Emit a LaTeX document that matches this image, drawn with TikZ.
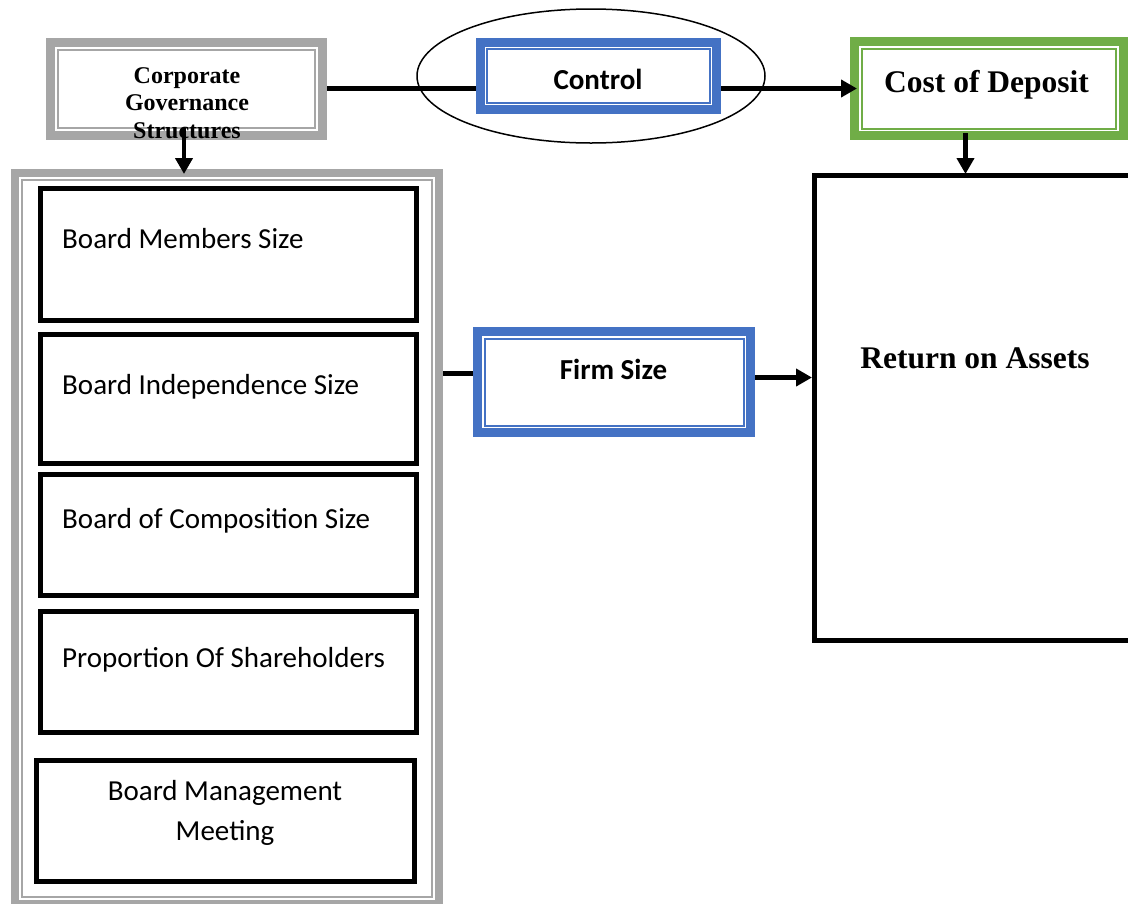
\documentclass[tikz,border=0pt]{standalone}
\usepackage{fontspec}
\setmainfont{Liberation Serif}
\newfontfamily\calibrifont{Carlito}
\usetikzlibrary{shapes.geometric,arrows.meta}
\definecolor{fgray}{RGB}{166,166,166}
\definecolor{fblue}{RGB}{68,114,196}
\definecolor{fgreen}{RGB}{112,173,71}
\begin{document}
\begin{tikzpicture}[x=1pt,y=-1pt,
  frame/.style={rectangle, draw, fill=white, inner sep=0pt, line width=9pt},
  innerline/.style={line width=2pt},
  bbox/.style={rectangle, draw=black, fill=white, inner sep=0pt, line width=5pt},
  conn/.style={line width=4.5pt, draw=black},
  arr/.style={conn, -{Triangle[width=17pt,length=16pt]}},
  serifbig/.style={font=\fontsize{31.5}{36}\selectfont\bfseries, inner sep=0pt},
  serifsmall/.style={font=\fontsize{24}{27.5}\selectfont\bfseries, inner sep=0pt},
  caltext/.style={font=\calibrifont\fontsize{29}{40}\selectfont, inner sep=0pt},
  calbold/.style={font=\calibrifont\fontsize{29}{35}\selectfont\bfseries, inner sep=0pt}
]
\useasboundingbox (0,0) rectangle (1128,903);

% ellipse behind Control
\node[ellipse, draw=black, line width=1.5pt, minimum width=348pt, minimum height=134pt, inner sep=0pt] (ell) at (591,76) {};

% framed boxes
\node[frame, draw=fgray, minimum width=272pt, minimum height=93pt] (corp) at (186.5,89) {};
\draw[fgray, innerline] ([shift={(12,12)}]corp.north west) rectangle ([shift={(-12,-12)}]corp.south east);

\node[frame, draw=fblue, minimum width=236pt, minimum height=67pt] (ctrl) at (598.5,76) {};
\draw[fblue, innerline] ([shift={(11,11)}]ctrl.north west) rectangle ([shift={(-11,-11)}]ctrl.south east);

\node[frame, draw=fgreen, minimum width=268.5pt, minimum height=94pt] (cost) at (988.75,88.5) {};
\draw[fgreen, innerline] ([shift={(11.5,11.5)}]cost.north west) rectangle ([shift={(-11.5,-11.5)}]cost.south east);

\node[frame, draw=fblue, minimum width=273pt, minimum height=101pt] (firm) at (614,382) {};
\draw[fblue, innerline] ([shift={(11.5,11.5)}]firm.north west) rectangle ([shift={(-11.5,-11.5)}]firm.south east);

\node[frame, draw=fgray, line width=8pt, minimum width=424pt, minimum height=731pt] (cont) at (227,538.5) {};
\draw[fgray, innerline] ([shift={(11,11)}]cont.north west) rectangle ([shift={(-11,-11)}]cont.south east);

% Return on Assets box (runs off the right edge)
\node[bbox, minimum width=325.5pt, minimum height=465pt] (roa) at (977.25,408) {};

% inner black boxes
\node[bbox, minimum width=376.5pt, minimum height=132pt] (b1) at (228.25,254) {};
\node[bbox, minimum width=376.5pt, minimum height=129.5pt] (b2) at (228.25,398.75) {};
\node[bbox, minimum width=376.5pt, minimum height=121pt] (b3) at (228.25,535) {};
\node[bbox, minimum width=376.5pt, minimum height=121pt] (b4) at (228.25,672) {};
\node[bbox, minimum width=378pt, minimum height=121.5pt] (b5) at (225.5,820.75) {};

% texts
\node[serifsmall, anchor=base] (corpT) at (187,83) {\begin{tabular}[t]{@{}c@{}}Corporate\\Governance\\Structures\end{tabular}};
\node[calbold, anchor=base] (ctrlT) at (598,89) {Control};
\node[serifbig, anchor=base] (costT) at (986.5,92) {Cost of Deposit};
\node[calbold, anchor=base] (firmT) at (613.5,379) {Firm Size};
\node[serifbig, anchor=base] (roaT) at (975,368) {Return on Assets};
\node[caltext, anchor=base west] (t1) at (62,248) {Board Members Size};
\node[caltext, anchor=base west] (t2) at (62,394) {Board Independence Size};
\node[caltext, anchor=base west] (t3) at (62,528) {Board of Composition Size};
\node[caltext, anchor=base west] (t4) at (62,667) {Proportion Of Shareholders};
\node[caltext, anchor=base] (t5) at (225,800) {\begin{tabular}[t]{@{}c@{}}Board Management\\Meeting\end{tabular}};

% connector guide coordinates
\coordinate (yTop) at (0,88.5);
\coordinate (yMid1) at (0,373.5);
\coordinate (yMid2) at (0,377.5);
\coordinate (xCorp) at (184,0);
\coordinate (xCost) at (965.5,0);

% connectors
\draw[conn] (corp.east |- yTop) -- (ctrl.west |- yTop);
\draw[arr, shorten >=-7pt] (ctrl.east |- yTop) -- (cost.west |- yTop);
\draw[arr, shorten <=-12pt, shorten >=-5pt] (corp.south -| xCorp) -- (cont.north -| xCorp);
\draw[arr, shorten <=-7pt, shorten >=-1pt] (cost.south -| xCost) -- (roa.north -| xCost);
\draw[conn] (cont.east |- yMid1) -- (firm.west |- yMid1);
\draw[arr] (firm.east |- yMid2) -- (roa.west |- yMid2);
\end{tikzpicture}
\end{document}
